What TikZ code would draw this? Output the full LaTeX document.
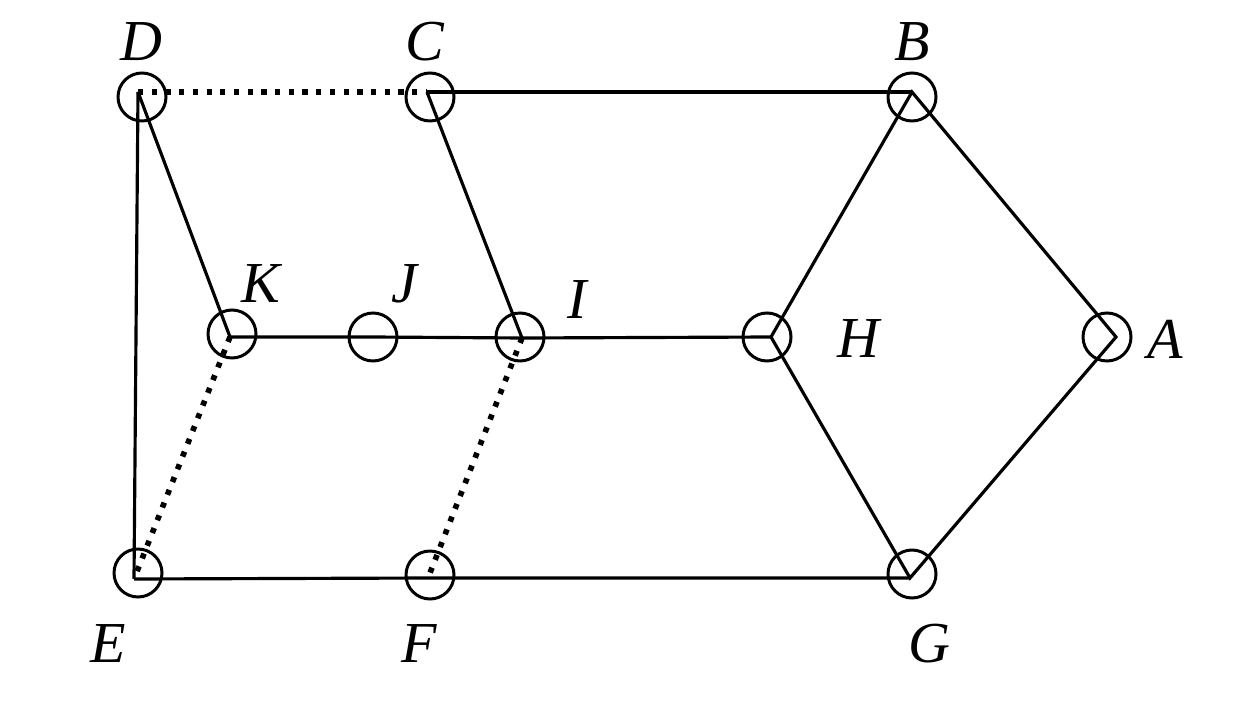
\documentclass[tikz,border=0pt]{standalone}
\usepackage{fontspec}
\setmainfont{Liberation Serif}
\begin{document}
\begin{tikzpicture}[x=0.02cm,y=-0.02cm,
  ring/.style={draw,circle,minimum size=48*0.02cm,inner sep=0pt,line width=1.7pt},
  edge/.style={line width=1.8pt},
  dotline/.style={line width=3.2pt,dash pattern=on 3pt off 4.8pt},
  lab/.style={font=\fontsize{33}{33}\selectfont\itshape,inner sep=0pt}]
\useasboundingbox (0,0) rectangle (1244,702);
% circles
\node[ring] (cD) at (142,97) {};
\node[ring] (cC) at (430,97) {};
\node[ring] (cB) at (912,97) {};
\node[ring] (cK) at (232,334) {};
\node[ring] (cJ) at (373,337) {};
\node[ring] (cI) at (520,337) {};
\node[ring] (cH) at (767,337) {};
\node[ring] (cA) at (1107,337) {};
\node[ring] (cE) at (138,573) {};
\node[ring] (cF) at (430,575) {};
\node[ring] (cG) at (912,574) {};
% junction points
\coordinate (D) at (138,92);
\coordinate (C) at (427,92);
\coordinate (B) at (912,92);
\coordinate (K) at (230,337);
\coordinate (J) at (373,337);
\coordinate (I) at (522,338);
\coordinate (H) at (771,337);
\coordinate (A) at (1116,337);
\coordinate (E) at (134,579);
\coordinate (F) at (428,578);
\coordinate (G) at (910,578);
% solid edges
\draw[edge] (D) -- (E);
\draw[edge] (D) -- (K);
\draw[edge] (C) -- (B);
\draw[edge] (C) -- (I);
\draw[edge] (K) -- (J) -- (I) -- (H);
\draw[edge] (H) -- (B) -- (A) -- (G) -- (H);
\draw[edge] (E) -- (F) -- (G);
% dotted edges
\draw[dotline] (D) -- (C);
\draw[dotline] (K) -- (E);
\draw[dotline] (I) -- (F);
% labels
\node[lab] (lD) at (141,42) {D};
\node[lab] (lC) at (425,42) {C};
\node[lab] (lB) at (912,42) {B};
\node[lab] (lK) at (261,284) {K};
\node[lab] (lJ) at (404,284) {J};
\node[lab] (lI) at (577,300) {I};
\node[lab] (lH) at (858,339) {H};
\node[lab] (lA) at (1165,339) {A};
\node[lab] (lE) at (108,644) {E};
\node[lab] (lF) at (419,644) {F};
\node[lab] (lG) at (929,644) {G};
\end{tikzpicture}
\end{document}
